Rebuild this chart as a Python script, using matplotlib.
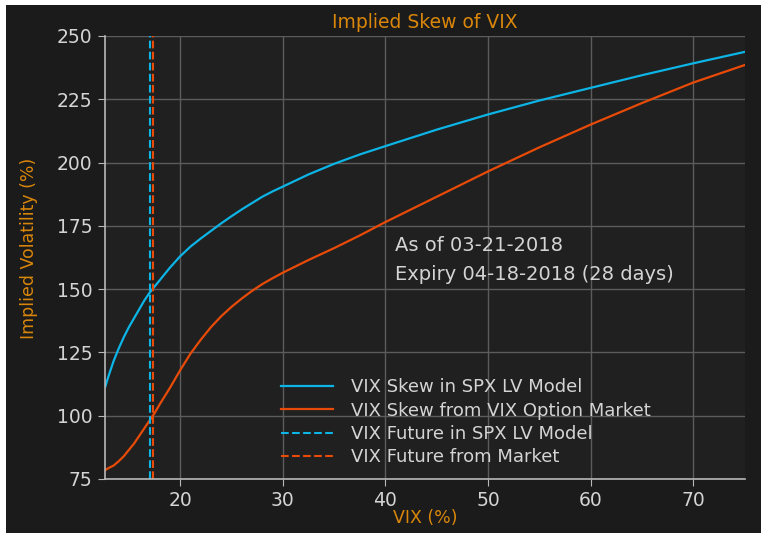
import matplotlib.pyplot as plt
from matplotlib.patches import Rectangle

# VIX level (%) and implied vol (%)
vix = [12.7, 13, 13.5, 14, 14.5, 15, 15.5, 16, 16.5, 17, 17.5, 18, 19, 20,
       21, 22, 23, 24, 25, 26, 27, 28, 29, 30, 32.5, 35, 37.5, 40,
       45, 50, 55, 60, 65, 70, 75]
skew_lv = [111.5, 115.5, 121.5, 126.5, 131, 135, 138.5, 142, 145.5, 148.5,
           151, 153.5, 158.5, 163, 166.8, 170, 173, 176, 178.8, 181.5, 184,
           186.5, 188.6, 190.5, 195.3, 199.5, 203.2, 206.5,
           213, 219, 224.5, 229.5, 234.5, 239.2, 243.7]
skew_mkt = [78.5, 79.3, 80.3, 82, 84, 86.5, 89, 92, 95, 98, 101, 104.5,
            111, 118, 124.5, 130, 135, 139.3, 143, 146.3, 149.3, 152, 154.3,
            156.5, 161.5, 166.2, 171.2, 176.5,
            186.5, 196.5, 206, 215, 223.5, 231.6, 238.5]

fut_lv = 17.01
fut_mkt = 17.30

blue = '#0db4e6'
red = '#e84a08'
orange = '#d9860a'
txt = '#d4d4d4'

fig = plt.figure(figsize=(7.61, 5.33), dpi=100, facecolor='white')
fig.patches.append(Rectangle((6 / 761, 0), 1, 1 - 5 / 533, transform=fig.transFigure,
                             facecolor='#1b1b1b', edgecolor='none', zorder=-10))
ax = fig.add_axes([105 / 761, 1 - 479 / 533, 640 / 761, 443 / 533])
ax.set_zorder(1)
ax.set_facecolor('#202020')

ax.plot(vix, skew_lv, color=blue, lw=1.6, label='VIX Skew in SPX LV Model')
ax.plot(vix, skew_mkt, color=red, lw=1.6, label='VIX Skew from VIX Option Market')
ax.axvline(fut_lv, color=blue, ls='--', lw=1.5, label='VIX Future in SPX LV Model')
ax.axvline(fut_mkt, color=red, ls='--', lw=1.5, label='VIX Future from Market')

ax.set_xlim(12.67, 75.05)
ax.set_ylim(75, 250)
ax.set_xticks([20, 30, 40, 50, 60, 70])
ax.set_yticks([75, 100, 125, 150, 175, 200, 225, 250])
ax.grid(True, color='#5c5c5c', lw=1)
ax.set_axisbelow(True)

for s in ['top', 'right']:
    ax.spines[s].set_visible(False)
for s in ['left', 'bottom']:
    ax.spines[s].set_color('#b8b8b8')
    ax.spines[s].set_linewidth(1.2)
ax.tick_params(colors='#b8b8b8', labelcolor=txt, labelsize=13.5, length=5, pad=4)

ax.set_title('Implied Skew of VIX', color=orange, fontsize=13.5, pad=6)
ax.set_xlabel('VIX (%)', color=orange, fontsize=12.5, va='center')
ax.xaxis.set_label_coords(0.5, -0.088)
ax.set_ylabel('Implied Volatility (%)', color=orange, fontsize=12.5, va='center')
ax.yaxis.set_label_coords(-0.118, 0.52)

ax.text(40.9, 167.4, 'As of 03-21-2018', color=txt, fontsize=14, va='center')
ax.text(40.9, 155.6, 'Expiry 04-18-2018 (28 days)', color=txt, fontsize=14, va='center')

leg = ax.legend(loc='lower left', bbox_to_anchor=(0.255, 0.0), frameon=False,
                fontsize=13, labelcolor=txt, handlelength=2.9, handletextpad=1.0,
                labelspacing=0.3, borderaxespad=0.3)

fig.savefig('out.png', dpi=100, facecolor=fig.get_facecolor())
